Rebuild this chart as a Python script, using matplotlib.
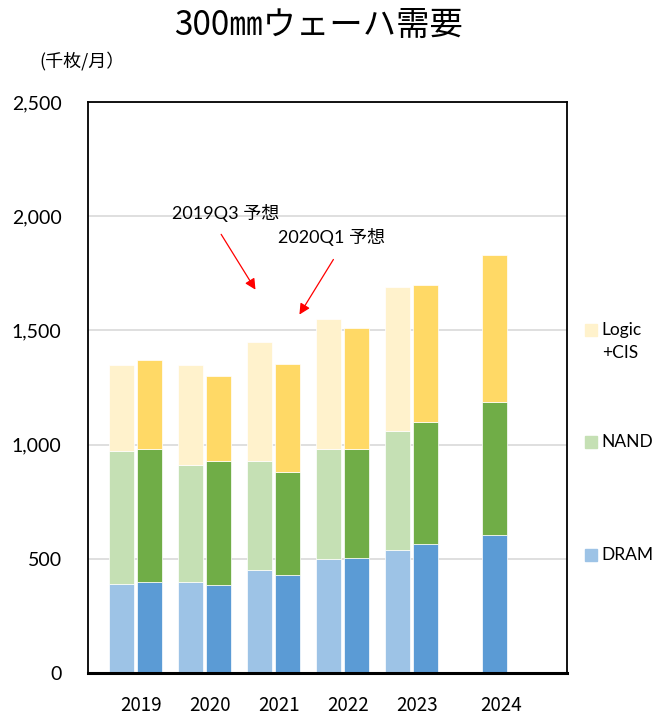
import numpy as np
import matplotlib.pyplot as plt
from matplotlib.patches import Rectangle

# ==== Data (千枚/月) ====
years = ['2019', '2020', '2021', '2022', '2023', '2024']

# 2019Q3 forecast (light bars), 2019-2023
dram_q3 = [390, 400, 450, 500, 540]
nand_q3 = [580, 510, 480, 480, 520]
logic_q3 = [380, 440, 520, 570, 630]

# 2020Q1 forecast (dark bars), 2019-2024
dram_q1 = [400, 385, 430, 505, 565, 605]
nand_q1 = [580, 545, 450, 475, 535, 580]
logic_q1 = [390, 370, 475, 530, 600, 645]

series = ['DRAM', 'NAND', 'Logic\n+CIS']
light_colors = ['#9DC3E6', '#C5E0B4', '#FFF2CC']
dark_colors = ['#5B9BD5', '#70AD47', '#FFD966']

jp = ['Lato', 'Noto Sans CJK JP']

# ==== Figure ====
fig = plt.figure(figsize=(6.64, 7.2), dpi=100)
ax = fig.add_axes([0.1325, 0.0653, 0.7218, 0.793])

w = 0.362
off = 0.203
x_q3 = np.arange(len(dram_q3)) - off
x_q1 = np.arange(len(dram_q1)) + off

bottom = np.zeros(len(x_q3))
for vals, c in zip([dram_q3, nand_q3, logic_q3], light_colors):
    ax.bar(x_q3, vals, w, bottom=bottom, color=c, edgecolor='white', linewidth=0.5, zorder=2)
    bottom += np.array(vals)

bottom = np.zeros(len(x_q1))
for vals, c in zip([dram_q1, nand_q1, logic_q1], dark_colors):
    ax.bar(x_q1, vals, w, bottom=bottom, color=c, edgecolor='white', linewidth=0.5, zorder=2)
    bottom += np.array(vals)

# ==== Axes styling ====
ax.set_ylim(0, 2500)
ax.set_xlim(-0.69, 6.26)
ax.set_yticks(np.arange(0, 2501, 500))
ax.set_yticklabels([f'{v:,}' for v in range(0, 2501, 500)], fontsize=14, family='Lato')
ax.grid(axis='y', color='#D9D9D9', linewidth=1.2, zorder=0)
ax.tick_params(axis='y', length=0, pad=19)

tick_x = [i + 0.08 for i in range(5)] + [x_q1[-1] + 0.1]
ax.set_xticks(tick_x)
ax.set_xticklabels(years, fontsize=13.5, family='Noto Sans CJK JP')
ax.tick_params(axis='x', length=0, pad=16)

for s in ['left', 'right', 'top']:
    ax.spines[s].set_linewidth(1.3)
    ax.spines[s].set_color('black')
ax.spines['bottom'].set_linewidth(2.2)

# ==== Annotations ====
ax.text(0.53, 2014, '2019Q3 予想', fontsize=13, family=jp, va='center', ha='left')
ax.text(2.065, 1909, '2020Q1 予想', fontsize=13, family=jp, va='center', ha='left')
ax.annotate('', xy=(1.76, 1668), xytext=(1.22, 1931),
            arrowprops=dict(arrowstyle='-|>', color='red', lw=0.9, mutation_scale=16))
ax.annotate('', xy=(2.355, 1559), xytext=(2.89, 1821),
            arrowprops=dict(arrowstyle='-|>', color='red', lw=0.9, mutation_scale=16))

# ==== Legend (hand placed, one entry per stack level) ====
legend_y = [0.2067, 0.4046, 0.601]
for c, label, ly in zip(light_colors, series, legend_y):
    ax.add_patch(Rectangle((1.0375, ly - 0.0105), 0.025, 0.021, transform=ax.transAxes,
                           color=c, clip_on=False))
    ax.text(1.072, ly + 0.014, label, transform=ax.transAxes, fontsize=12.5,
            family='Lato', va='top', ha='left', linespacing=1.55)

# ==== Titles ====
fig.text(0.479, 0.965, '300㎜ウェーハ需要', fontsize=24, family='Noto Sans CJK JP',
         ha='center', va='center')
fig.text(0.06, 0.915, '(千枚/月）', fontsize=13, family='Noto Sans CJK JP',
         ha='left', va='center')

fig.savefig('out.png', dpi=100)
